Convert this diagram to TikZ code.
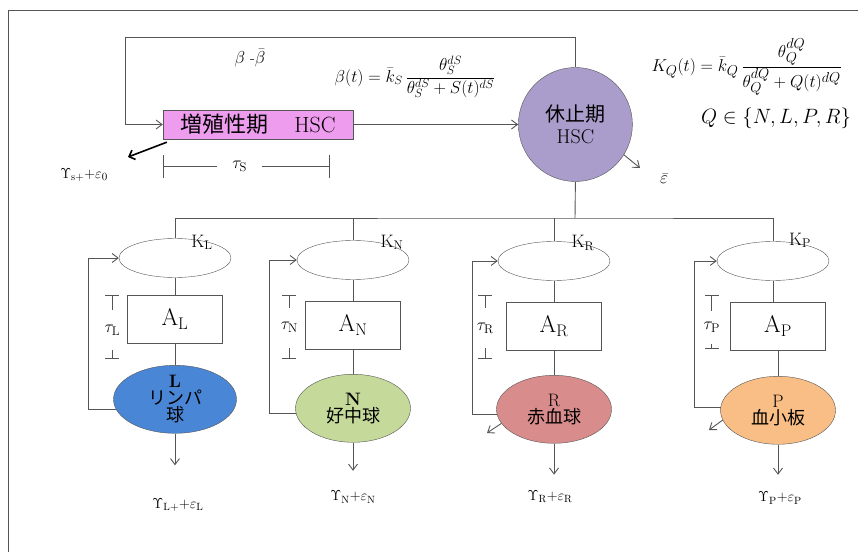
\documentclass[tikz,border=0pt]{standalone}
\usepackage{fontspec}
\newfontfamily\jp{Noto Sans CJK JP}
\usepackage{tikz}
\usetikzlibrary{shapes.geometric, arrows, arrows.meta, positioning, calc}
\definecolor{prolifpink}{HTML}{EE9CEE}
\definecolor{restviolet}{HTML}{AA9CCB}
\definecolor{lymphblue}{HTML}{4A86D6}
\definecolor{neutgreen}{HTML}{C5D99A}
\definecolor{redrose}{HTML}{D98C8C}
\definecolor{platorange}{HTML}{F9BE85}
\definecolor{linegray}{HTML}{555555}
\tikzstyle{wire} = [draw=linegray, line width=0.9pt]
\tikzstyle{arrow} = [wire, -{Straight Barb[length=6pt,width=9pt]}]
\tikzstyle{tauend} = [wire, {Bar[width=14pt]}-{Bar[width=14pt]}]
\tikzstyle{phase} = [rectangle, draw=linegray, fill=prolifpink, minimum width=190pt, minimum height=29pt, inner sep=0pt, font=\fontsize{22}{24}\selectfont]
\tikzstyle{pool} = [circle, draw=linegray, fill=restviolet, minimum size=114pt, inner sep=0pt, align=center, font=\fontsize{20}{22}\selectfont]
\tikzstyle{sensor} = [ellipse, draw=linegray, minimum width=112pt, minimum height=39pt, inner sep=0pt]
\tikzstyle{amplify} = [rectangle, draw=linegray, minimum width=95pt, minimum height=48pt, inner sep=0pt, font=\fontsize{24}{26}\selectfont]
\tikzstyle{blood} = [ellipse, draw=linegray, minimum width=115pt, minimum height=68pt, inner sep=0pt, align=center, font=\fontsize{18}{17}\selectfont]
\tikzstyle{klabel} = [inner sep=0pt, font=\fontsize{18}{19}\selectfont]
\tikzstyle{tlabel} = [inner sep=0pt, fill=white, minimum height=40pt, font=\fontsize{18}{19}\selectfont]
\tikzstyle{outlabel} = [inner sep=0pt, font=\fontsize{15}{16}\selectfont]

\begin{document}
\begin{tikzpicture}[x=1pt, y=1pt]
    \useasboundingbox (0,0) rectangle (858,552);
    \draw [wire] (8,0) -- (8,542) -- (858,542);

    % stem cells
    \node (prolif) [phase] at (258,427.5) {{\jp 増殖性期}\hspace{26pt}HSC};
    \node (rest) [pool, right=165pt of prolif] {{\jp 休止期}\\HSC};
    \coordinate (fbtop) at (125,515);
    \draw [arrow] (rest.north) |- (fbtop) |- (prolif.west);
    \draw [arrow] (prolif) -- (rest);

    \node (beta) [font=\fontsize{16}{17}\selectfont] at (250,494) {$\beta$ -$\bar{\beta}$};
    \node (betaeq) [font=\fontsize{17}{18}\selectfont] at (415,475) {$\displaystyle \beta(t)=\bar{k}_S\,\frac{\theta_S^{dS}}{\theta_S^{dS}+S(t)^{dS}}$};
    \node (keq) [anchor=west, font=\fontsize{19}{20}\selectfont] at (648,485) {$\displaystyle K_Q(t)=\bar{k}_Q\,\frac{\theta_Q^{dQ}}{\theta_Q^{dQ}+Q(t)^{dQ}}$};
    \node (qset) [font=\fontsize{21}{22}\selectfont] at (776,434) {$Q\in\{N,L,P,R\}$};

    \node (epsbar) [font=\fontsize{18}{19}\selectfont] at (664,373) {$\bar{\varepsilon}$};
    \coordinate (epsend) at (640,384);
    \draw [arrow] (rest.-32) -- (epsend);

    \node (ys) [outlabel] at (84,377) {$\Upsilon_{\mathrm{s+}}$+$\varepsilon_0$};
    \coordinate (ysend) at (128,395);
    \draw [line width=1.6pt, -{Straight Barb[length=5pt,width=10pt]}] ($(prolif.south west)+(4pt,-3pt)$) -- (ysend);

    \coordinate (sL) at ($(prolif.south west)+(0,-27pt)$);
    \coordinate (sR) at ($(prolif.south west)+(167pt,-27pt)$);
    \draw [wire, {Bar[width=23pt]}-{Bar[width=23pt]}] (sL) -- node (tauS) [tlabel, minimum height=0pt, minimum width=45pt, pos=0.46] {$\tau_{\mathrm{S}}$} (sR);

    % feedback nodes
    \node (kL) [sensor] at (175,294) {};
    \node (kN) [sensor] at (353,292) {};
    \node (kR) [sensor] at (554,291) {};
    \node (kP) [sensor] at (773,291) {};
    \coordinate (bus) at (575,334);
    \draw [wire] (rest.south) -- (bus);
    \draw [wire] (kL.north) |- (bus) -| (kP.north);
    \draw [wire] (kN.north) -- (kN.north |- bus);
    \draw [wire] (kR.north) -- (kR.north |- bus);

    \node (kLlab) [klabel, xshift=27pt, yshift=-4pt] at (kL.north) {K$_{\mathrm{L}}$};
    \node (kNlab) [klabel, xshift=39pt, yshift=-2pt] at (kN.north) {K$_{\mathrm{N}}$};
    \node (kRlab) [klabel, xshift=29pt, yshift=-2pt] at (kR.north) {K$_{\mathrm{R}}$};
    \node (kPlab) [klabel, xshift=27pt, yshift=1pt] at (kP.north) {K$_{\mathrm{P}}$};

    \node (aL) [amplify, below=17pt of kL] {A$_{\mathrm{L}}$};
    \node (aN) [amplify, below=21pt of kN] {A$_{\mathrm{N}}$};
    \node (aR) [amplify, below=21pt of kR] {A$_{\mathrm{R}}$};
    \node (aP) [amplify, below=21pt of kP, xshift=5pt] {A$_{\mathrm{P}}$};
    \draw [wire] (kL) -- (aL);
    \draw [wire] (kN) -- (aN);
    \draw [wire] (kR) -- (aR);
    \draw [wire] (kP.south) -- (kP.south |- aP.north);

    % blood cells
    \node (cellL) [blood, fill=lymphblue, minimum width=123pt, below=22pt of aL] {\textbf{L}\\{\jp リンパ}\\{\jp 球}};
    \node (cellN) [blood, fill=neutgreen, below=25pt of aN] {\textbf{N}\\{\jp 好中球}};
    \node (cellR) [blood, fill=redrose, below=25pt of aR] {R\\{\jp 赤血球}};
    \node (cellP) [blood, fill=platorange, below=26pt of aP] {P\\{\jp 血小板}};
    \draw [wire] (aL) -- (cellL);
    \draw [wire] (aN) -- (cellN);
    \draw [wire] (aR) -- (cellR);
    \draw [wire] (aP) -- (cellP);

    % delays
    \coordinate (tLtop) at ($(aL.north west)+(-15pt,0)$);
    \coordinate (tLbot) at ($(aL.south west)+(-15pt,-15.5pt)$);
    \coordinate (tNtop) at ($(aN.north west)+(-16pt,5.5pt)$);
    \coordinate (tNbot) at ($(aN.south west)+(-16pt,-9.5pt)$);
    \coordinate (tRtop) at ($(aR.north west)+(-21pt,6.5pt)$);
    \coordinate (tRbot) at ($(aR.south west)+(-21pt,-8.5pt)$);
    \coordinate (tPtop) at ($(aP.north west)+(-18.5pt,6.5pt)$);
    \coordinate (tPbot) at ($(aP.south west)+(-18.5pt,1.5pt)$);
    \draw [tauend] (tLtop) -- node (tauL) [tlabel, pos=0.56] {$\tau_{\mathrm{L}}$} (tLbot);
    \draw [tauend] (tNtop) -- node (tauN) [tlabel, pos=0.51] {$\tau_{\mathrm{N}}$} (tNbot);
    \draw [tauend] (tRtop) -- node (tauR) [tlabel, pos=0.52] {$\tau_{\mathrm{R}}$} (tRbot);
    \draw [tauend] (tPtop) -- node (tauP) [tlabel, minimum height=33pt, pos=0.6] {$\tau_{\mathrm{P}}$} (tPbot);

    % feedback loops
    \draw [arrow] (cellL.190) -- ++(-28pt,0) |- (kL.west);
    \draw [arrow] (cellN.185) -- ++(-26pt,0) |- (kN.west);
    \draw [arrow] (cellR.185) -- ++(-24pt,0) |- (kR.west);
    \draw [arrow] (cellP.177) -- ++(-26.5pt,0) |- (kP.west);

    \coordinate (lossR) at (487,119);
    \coordinate (lossP) at (709,122);
    \draw [arrow] (cellR.195) -- (lossR);
    \draw [arrow] (cellP.190) -- (lossP);

    % outputs
    \node (yL) [outlabel] at (178,47) {$\Upsilon_{\mathrm{L+}}$+$\varepsilon_{\mathrm{L}}$};
    \node (yN) [outlabel] at (353,55) {$\Upsilon_{\mathrm{N}}$+$\varepsilon_{\mathrm{N}}$};
    \node (yR) [outlabel] at (550,55) {$\Upsilon_{\mathrm{R}}$+$\varepsilon_{\mathrm{R}}$};
    \node (yP) [outlabel] at (780,54) {$\Upsilon_{\mathrm{P}}$+$\varepsilon_{\mathrm{P}}$};
    \draw [arrow, shorten >=33pt] (cellL.south) -- (cellL.south |- yL.north);
    \draw [arrow, shorten >=20pt] (cellN.south) -- (cellN.south |- yN.north);
    \draw [arrow, shorten >=16pt] (cellR.south) -- (cellR.south |- yR.north);
    \draw [arrow, shorten >=17pt] (cellP.south) -- (cellP.south |- yP.north);
\end{tikzpicture}
\end{document}
